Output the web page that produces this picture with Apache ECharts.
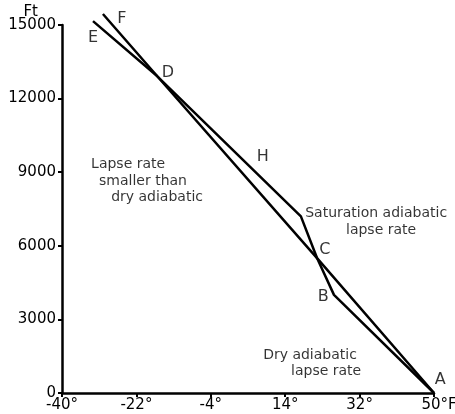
<!DOCTYPE html>
<html><head><meta charset="utf-8">
<script src="https://cdn.jsdelivr.net/npm/echarts@6/dist/echarts.min.js"></script>
<style>html,body{margin:0;padding:0;background:#fff}#c{width:455px;height:414px}</style>
</head><body><div id="c"></div>
<script>
// Temperature (°F) and height (ft) values
var dryTemps = [50, 21.7, -17.0, -30.1];
var dryHeights = [0, 5500, 12920, 15450];
var envTemps = [50, 25.8, 21.7, 17.8, -17.0, -32.5];
var envHeights = [0, 4000, 5500, 7200, 12920, 15160];
var xTicks = [-40, -22, -4, 14, 32, 50];
var yTicks = [0, 3000, 6000, 9000, 12000, 15000];
// Point letters and annotation texts in data coordinates
var letterNames = ['A', 'B', 'C', 'D', 'E', 'F', 'H'];
var letterTemps = [51.5, 23.2, 23.6, -14.4, -32.5, -25.5, 8.6];
var letterHeights = [530, 3910, 5830, 13040, 14470, 15240, 9620];
var noteTexts = ['Lapse rate', 'smaller than', 'dry adiabatic', 'Saturation adiabatic', 'lapse rate', 'Dry adiabatic', 'lapse rate'];
var noteTemps = [-24.0, -20.4, -17.0, 36.0, 37.2, 20.0, 23.9];
var noteHeights = [9330, 8640, 7990, 7340, 6640, 1550, 900];

function pts(xs, ys) { return xs.map(function (x, i) { return [x, ys[i]]; }); }
function labelled(names, xs, ys) { return names.map(function (n, i) { return { name: n, value: [xs[i], ys[i]] }; }); }

var font = 'DejaVu Sans';
var chart = echarts.init(document.getElementById('c'), null, { renderer: 'canvas' });
chart.setOption({
  animation: false,
  backgroundColor: '#fff',
  grid: { left: 62, right: 21, top: 25, bottom: 21, containLabel: false, outerBoundsMode: 'none' },
  xAxis: {
    type: 'value', min: xTicks[0], max: xTicks[xTicks.length - 1], interval: 18,
    axisLine: { onZero: false, lineStyle: { color: '#000', width: 2.5 } },
    axisTick: { show: true, inside: false, length: 4, lineStyle: { color: '#000', width: 2 } },
    axisLabel: { color: '#000', fontFamily: font, fontSize: 15, margin: 5,
      formatter: function (v) { return v === xTicks[xTicks.length - 1] ? '{e|' + v + '°F}' : v + '°'; },
      rich: { e: { color: '#000', fontFamily: font, fontSize: 15, padding: [0, 0, 0, 10] } } },
    splitLine: { show: false }
  },
  yAxis: {
    type: 'value', min: yTicks[0], max: yTicks[yTicks.length - 1], interval: 3000,
    name: 'Ft', nameLocation: 'end', nameGap: 13, nameMoveOverlap: false,
    nameTextStyle: { color: '#000', fontFamily: font, fontSize: 15, align: 'right', verticalAlign: 'middle', padding: [0, 24, 0, 0] },
    axisLine: { onZero: false, lineStyle: { color: '#000', width: 2.5 } },
    axisTick: { show: true, inside: false, length: 4, lineStyle: { color: '#000', width: 2 } },
    axisLabel: { color: '#000', fontFamily: font, fontSize: 15, margin: 6,
      formatter: function (v) { return String(v); } },
    splitLine: { show: false }
  },
  series: [
    { type: 'line', data: pts(dryTemps, dryHeights), symbol: 'none', clip: false,
      lineStyle: { color: '#000', width: 2.5 } },
    { type: 'line', data: pts(envTemps, envHeights), symbol: 'none', clip: false,
      lineStyle: { color: '#000', width: 2.5 } },
    { type: 'scatter', data: labelled(letterNames, letterTemps, letterHeights), symbolSize: 0, clip: false,
      label: { show: true, position: 'inside', formatter: '{b}', color: '#000', fontFamily: font, fontSize: 16 } },
    { type: 'scatter', data: labelled(noteTexts, noteTemps, noteHeights), symbolSize: 0, clip: false,
      label: { show: true, position: 'inside', formatter: '{b}', color: '#000', fontFamily: font, fontSize: 14 } }
  ]
});
</script></body></html>
